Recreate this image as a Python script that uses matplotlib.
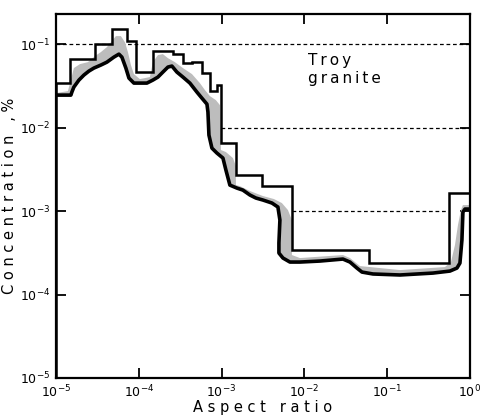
import numpy as np
import matplotlib
matplotlib.use("Agg")
import matplotlib.pyplot as plt

# upper staircase (log10 aspect ratio edges, log10 concentration levels)
step_edges = [-5.0, -4.831, -4.529, -4.324, -4.143, -4.034, -3.829, -3.587, -3.466,
              -3.357, -3.237, -3.140, -3.056, -3.007, -2.826, -2.512, -2.150, -1.220,
              -0.254, 0.0]
step_levels = [-1.467, -1.180, -1.0, -0.820, -0.964, -1.335, -1.084, -1.120, -1.228,
               -1.216, -1.347, -1.563, -1.491, -2.186, -2.569, -2.701, -3.467, -3.623,
               -2.784]

# lower bound curve
lower_logx = [-5.000, -4.819, -4.807, -4.783, -4.722, -4.662, -4.601, -4.541, -4.457,
              -4.384, -4.300, -4.239, -4.203, -4.155, -4.118, -4.058, -3.901, -3.829,
              -3.768, -3.708, -3.647, -3.599, -3.539, -3.466, -3.382, -3.297, -3.237,
              -3.176, -3.164, -3.152, -3.116, -3.056, -2.983, -2.947, -2.899, -2.814,
              -2.742, -2.657, -2.585, -2.500, -2.391, -2.319, -2.295, -2.307, -2.307,
              -2.258, -2.174, -2.053, -1.812, -1.534, -1.449, -1.365, -1.304, -1.171,
              -0.845, -0.447, -0.242, -0.157, -0.121, -0.097, -0.085, -0.060, 0.0]
lower_logy = [-1.611, -1.611, -1.575, -1.515, -1.431, -1.371, -1.323, -1.287, -1.251,
              -1.216, -1.156, -1.120, -1.156, -1.287, -1.407, -1.467, -1.467, -1.431,
              -1.395, -1.335, -1.275, -1.263, -1.335, -1.395, -1.467, -1.575, -1.647,
              -1.719, -1.814, -2.090, -2.246, -2.305, -2.365, -2.509, -2.689, -2.725,
              -2.749, -2.808, -2.844, -2.868, -2.904, -2.952, -3.108, -3.383, -3.503,
              -3.563, -3.611, -3.611, -3.599, -3.575, -3.611, -3.683, -3.731, -3.754,
              -3.766, -3.743, -3.719, -3.683, -3.623, -3.347, -3.012, -2.976, -2.976]

# upper edge of the grey band
band_logx = [-5.000, -4.855, -4.819, -4.783, -4.710, -4.614, -4.529, -4.457, -4.384,
             -4.324, -4.275, -4.215, -4.167, -4.130, -4.094, -4.058, -3.986, -3.865,
             -3.829, -3.768, -3.708, -3.647, -3.563, -3.466, -3.357, -3.261, -3.200,
             -3.140, -3.068, -3.019, -3.007, -2.947, -2.862, -2.826, -2.826, -2.778,
             -2.657, -2.500, -2.367, -2.271, -2.198, -2.150, -2.150, -2.053, -1.534,
             -1.449, -1.329, -0.845, -0.302, -0.229, -0.181, -0.145, -0.109, -0.085, 0.0]
band_logy = [-1.587, -1.563, -1.431, -1.287, -1.240, -1.216, -1.144, -1.096, -1.036,
             -0.964, -0.904, -0.904, -0.976, -1.096, -1.251, -1.359, -1.419, -1.395,
             -1.216, -1.132, -1.120, -1.168, -1.216, -1.287, -1.359, -1.467, -1.551,
             -1.623, -1.671, -1.731, -2.269, -2.293, -2.365, -2.461, -2.689, -2.701,
             -2.760, -2.820, -2.856, -2.904, -2.988, -3.108, -3.527, -3.563, -3.527,
             -3.563, -3.659, -3.707, -3.671, -3.611, -3.407, -3.168, -2.988, -2.928,
             -2.928]

# dashed reference lines: level, x start, x end
ref_levels = [0.1, 0.01, 0.001]
ref_start = [1e-5, 9.9e-4, 7.1e-3]
ref_end = [1.0, 1.0, 0.55]

fig = plt.figure(figsize=(4.86, 4.18), dpi=100)
ax = fig.add_axes([0.115, 0.0957, 0.852, 0.871])
ax.set_xscale("log")
ax.set_yscale("log")

for lev, x0, x1 in zip(ref_levels, ref_start, ref_end):
    ax.plot([x0, x1], [lev, lev], color="black", lw=0.9, ls=(0, (3, 2.2)), zorder=1)

bx = np.concatenate([10 ** np.array(band_logx), 10 ** np.array(lower_logx)[::-1]])
by = np.concatenate([10 ** np.array(band_logy), 10 ** np.array(lower_logy)[::-1]])
ax.fill(bx, by, color="#bdbdbd", lw=0, zorder=2)

ax.stairs(10 ** np.array(step_levels), 10 ** np.array(step_edges), color="black",
          lw=1.8, zorder=3)
ax.plot(10 ** np.array(lower_logx), 10 ** np.array(lower_logy), color="black",
        lw=2.6, zorder=4, solid_joinstyle="round")

ax.set_xlim(1e-5, 1)
ax.set_ylim(1e-5, 0.23)
ax.set_xticks([1e-5, 1e-4, 1e-3, 1e-2, 1e-1, 1])
ax.set_yticks([1e-5, 1e-4, 1e-3, 1e-2, 1e-1])
ax.minorticks_off()
ax.tick_params(which="major", direction="in", length=7, width=1.3,
               top=True, right=True, labelsize=9, pad=4)
for s in ax.spines.values():
    s.set_linewidth(1.6)

ts = "\u2009"
ax.text(0.609, 0.846, ts.join("Troy") + "\n" + ts.join("granite"), fontsize=11,
        linespacing=1.25, ha="left", va="center", transform=ax.transAxes)
ax.set_xlabel("A s p e c t   r a t i o", fontsize=10.5, labelpad=0)
ax.set_ylabel("C o n c e n t r a t i o n   , %", fontsize=10.5, labelpad=2)

fig.savefig("out.png", dpi=100)
